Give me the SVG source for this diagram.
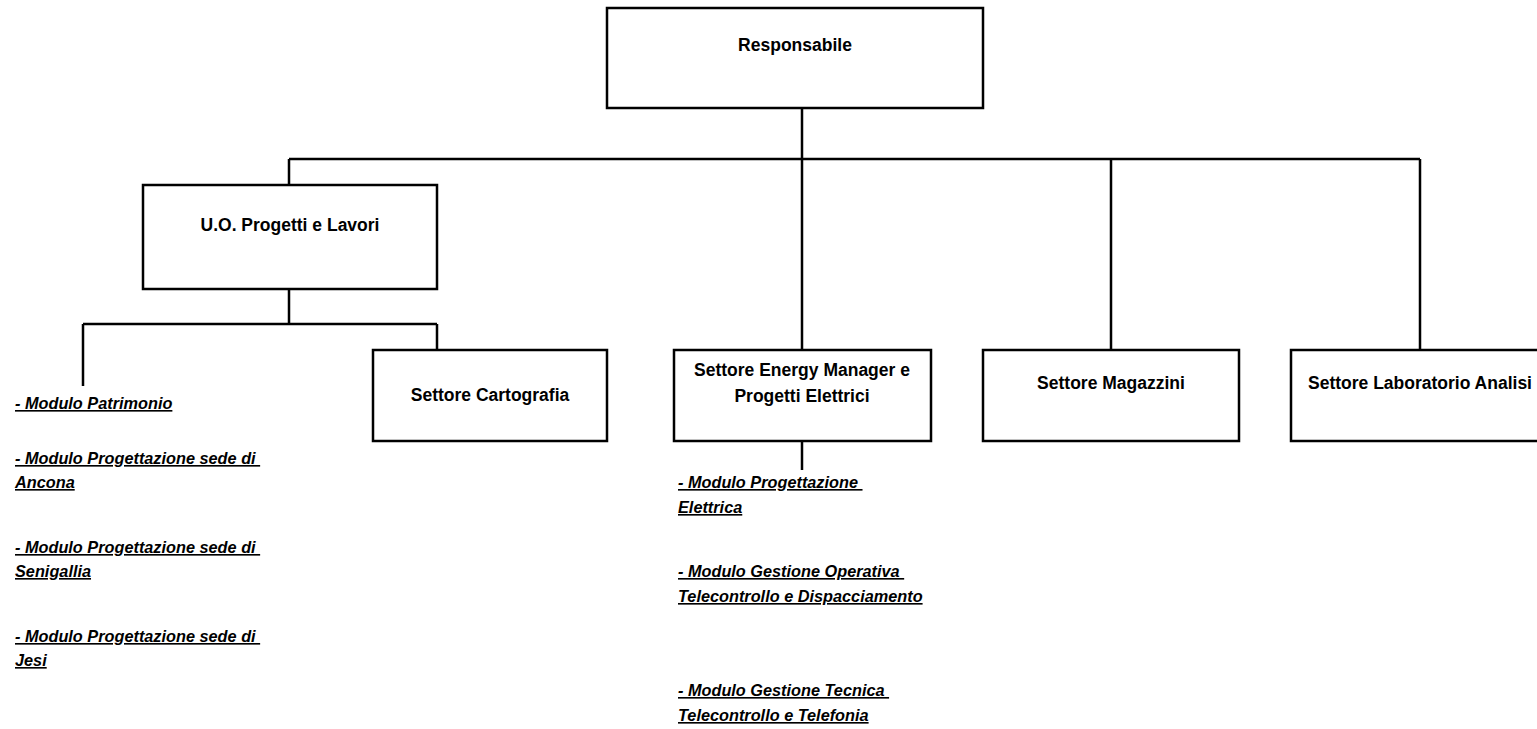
<svg xmlns="http://www.w3.org/2000/svg" width="1537" height="729" viewBox="0 0 1537 729">
<style>
.box{fill:#fff;stroke:#000;stroke-width:2.5}
.conn{fill:none;stroke:#000;stroke-width:2.5}
.lbl{font-family:"Liberation Sans",Arial,sans-serif;font-weight:bold;font-size:17.5px;fill:#000;text-anchor:middle}
.mod{font-family:"Liberation Sans",Arial,sans-serif;font-weight:bold;font-style:italic;font-size:16.3px;fill:#000;text-decoration:underline;white-space:pre}
</style>
<rect width="1537" height="729" fill="#fff"/>
<g id="connectors">
<path class="conn" d="M802 108V159M289 159H1420M289 159V185M802 159V350M1111 159V350M1420 159V350"/>
<path class="conn" d="M289 289V324M83 324H437M83 324V386M437 324V350"/>
<path class="conn" d="M802 441V470"/>
</g>
<g id="responsabile">
<rect class="box" x="607" y="8" width="376" height="100"/>
<text class="lbl" x="795" y="51">Responsabile</text>
</g>
<g id="uo-progetti-lavori">
<rect class="box" x="143" y="185" width="294" height="104"/>
<text class="lbl" x="290" y="231">U.O. Progetti e Lavori</text>
</g>
<g id="moduli-uo">
<text class="mod" x="15" y="409">- Modulo Patrimonio</text>
<text class="mod" x="15" y="464">- Modulo Progettazione sede di </text>
<text class="mod" x="15" y="488">Ancona</text>
<text class="mod" x="15" y="553">- Modulo Progettazione sede di </text>
<text class="mod" x="15" y="577">Senigallia</text>
<text class="mod" x="15" y="642">- Modulo Progettazione sede di </text>
<text class="mod" x="15" y="666">Jesi</text>
</g>
<g id="settore-cartografia">
<rect class="box" x="373" y="350" width="234" height="91"/>
<text class="lbl" x="490" y="401">Settore Cartografia</text>
</g>
<g id="settore-energy">
<rect class="box" x="674" y="350" width="257" height="91"/>
<text class="lbl" x="802" y="376">Settore Energy Manager e</text>
<text class="lbl" x="802" y="402">Progetti Elettrici</text>
</g>
<g id="moduli-energy">
<text class="mod" x="678" y="488">- Modulo Progettazione </text>
<text class="mod" x="678" y="513">Elettrica</text>
<text class="mod" x="678" y="577">- Modulo Gestione Operativa </text>
<text class="mod" x="678" y="602">Telecontrollo e Dispacciamento</text>
<text class="mod" x="678" y="696">- Modulo Gestione Tecnica </text>
<text class="mod" x="678" y="721">Telecontrollo e Telefonia</text>
</g>
<g id="settore-magazzini">
<rect class="box" x="983" y="350" width="256" height="91"/>
<text class="lbl" x="1111" y="389">Settore Magazzini</text>
</g>
<g id="settore-laboratorio">
<rect class="box" x="1291" y="350" width="258" height="91"/>
<text class="lbl" x="1420" y="389">Settore Laboratorio Analisi</text>
</g>
</svg>
